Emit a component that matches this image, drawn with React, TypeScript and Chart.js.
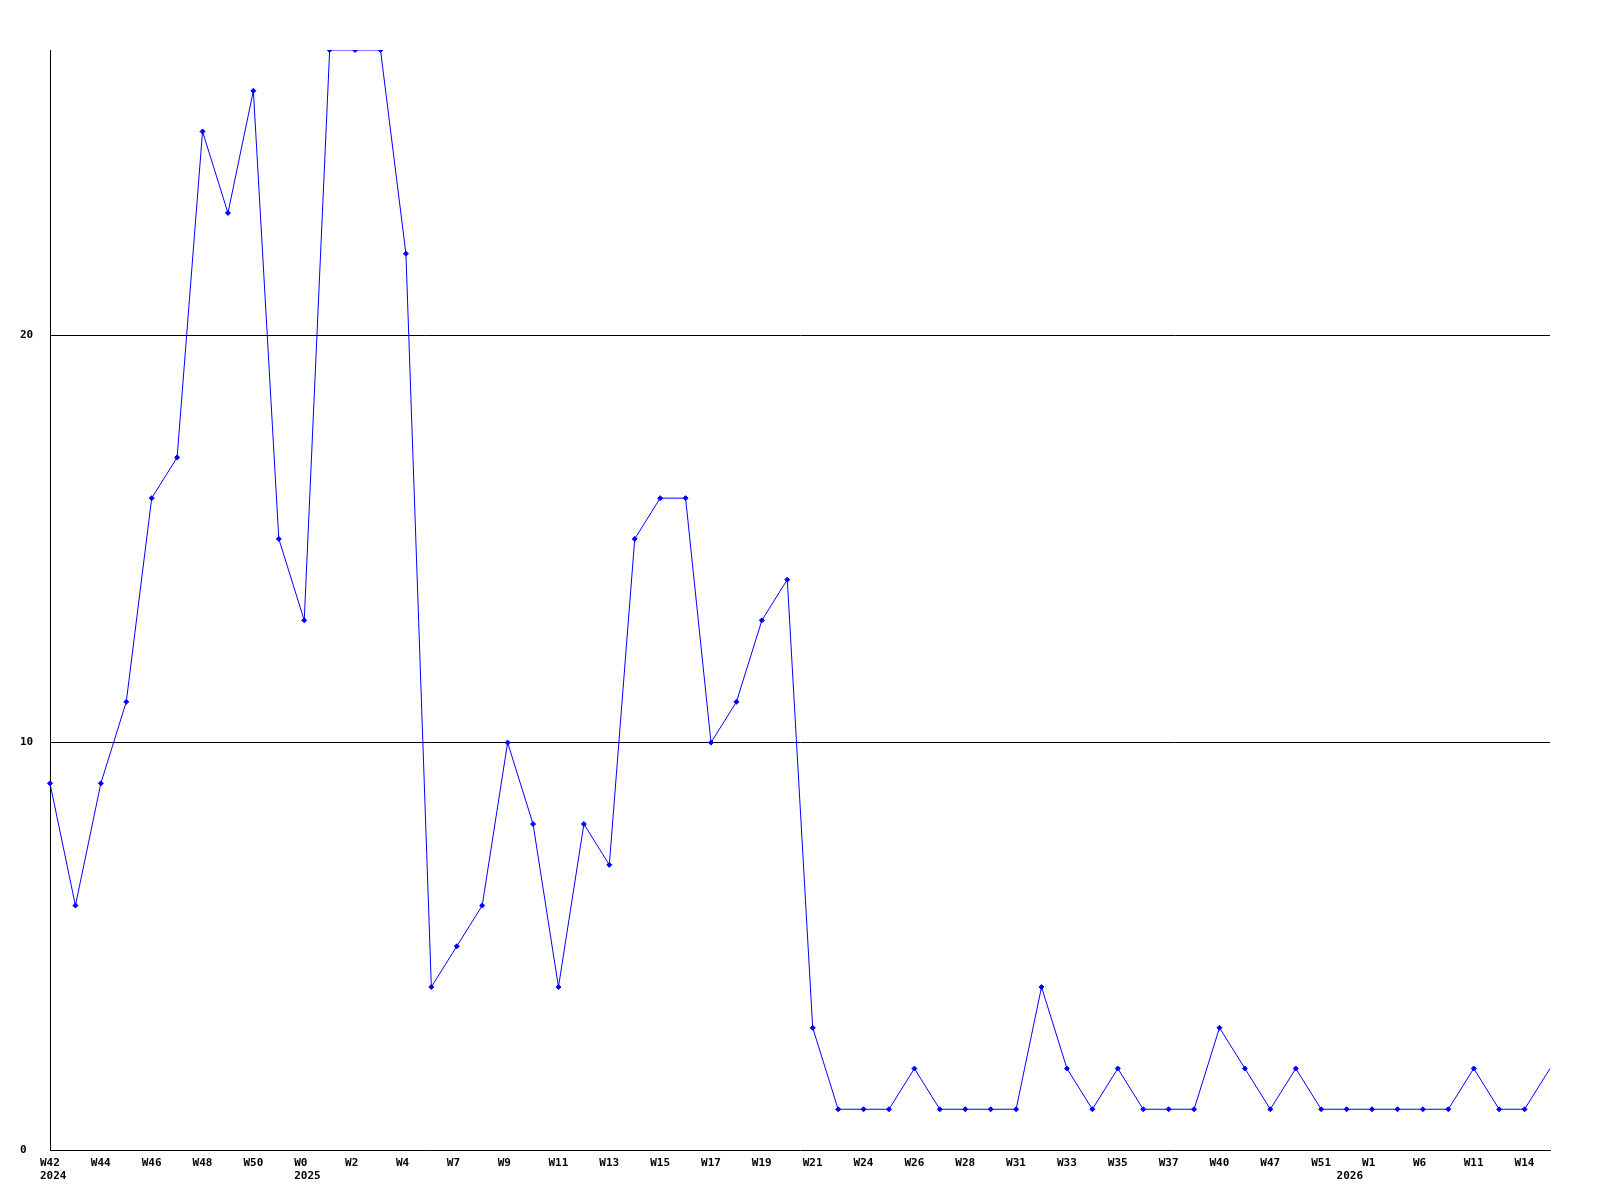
import React, { useEffect, useRef } from "react";
import { Chart, registerables } from "chart.js";

Chart.register(...registerables);

const weekLabels = [
  "W42", "", "W44", "", "W46", "", "W48", "", "W50", "",
  "W0", "", "W2", "", "W4", "", "W7", "", "W9", "",
  "W11", "", "W13", "", "W15", "", "W17", "", "W19", "",
  "W21", "", "W24", "", "W26", "", "W28", "", "W31", "",
  "W33", "", "W35", "", "W37", "", "W40", "", "W47", "",
  "W51", "", "W1", "", "W6", "", "W11", "", "W14", "",
];

const values = [
  9, 6, 9, 11, 16, 17, 25, 23, 26, 15,
  13, 27, 27, 27, 22, 4, 5, 6, 10, 8,
  4, 8, 7, 15, 16, 16, 10, 11, 13, 14,
  3, 1, 1, 1, 2, 1, 1, 1, 1, 4,
  2, 1, 2, 1, 1, 1, 3, 2, 1, 2,
  1, 1, 1, 1, 1, 1, 2, 1, 1, 2,
];

const yTickValues = [0, 10, 20];
const yearTickIndices = [0, 10, 51];
const yearTexts = ["2024", "2025", "2026"];

const FONT_FAMILY = "'DejaVu Sans Mono', monospace";

function tickLabel(i: number): string | string[] {
  const yi = yearTickIndices.indexOf(i);
  if (yi >= 0) return [weekLabels[i] || "", yearTexts[yi]];
  return weekLabels[i] || "";
}

export default function App() {
  const canvasRef = useRef<HTMLCanvasElement | null>(null);

  useEffect(() => {
    if (!canvasRef.current) return;
    const last = values.length - 1;
    const chart = new Chart(canvasRef.current, {
      type: "line",
      data: {
        labels: weekLabels,
        datasets: [
          {
            data: values,
            borderColor: "#0000ff",
            backgroundColor: "#0000ff",
            borderWidth: 1,
            pointStyle: "rectRot",
            pointRadius: (c: any) => (c.dataIndex === last ? 0 : 2.5),
            pointBorderWidth: 1,
            tension: 0,
            fill: false,
          },
        ],
      },
      options: {
        animation: false,
        responsive: false,
        maintainAspectRatio: false,
        layout: { padding: { left: 20, right: 50, top: 50, bottom: 0 } },
        plugins: { legend: { display: false }, tooltip: { enabled: false } },
        scales: {
          x: {
            type: "category",
            offset: false,
            grid: { display: false, drawTicks: false },
            border: { display: true, color: "#000", width: 1 },
            ticks: {
              autoSkip: false,
              maxRotation: 0,
              minRotation: 0,
              align: "start",
              labelOffset: -10,
              padding: 6,
              color: "#000",
              font: { family: FONT_FAMILY, size: 11, weight: "bold", lineHeight: 1.25 },
              callback: (_v: any, i: number) => tickLabel(i),
            },
            afterFit: (s: any) => {
              s.height = 50;
            },
          },
          y: {
            min: 0,
            max: 27,
            grid: {
              color: "#000",
              lineWidth: (c: any) => (c.tick && c.tick.value === 0 ? 0 : 1),
              drawTicks: false,
            },
            border: { display: true, color: "#000", width: 1 },
            afterBuildTicks: (s: any) => {
              s.ticks = yTickValues.map((v) => ({ value: v }));
            },
            ticks: {
              crossAlign: "far",
              color: "#000",
              padding: 0,
              font: { family: FONT_FAMILY, size: 11, weight: "bold" },
              callback: (v: any) => String(v),
            },
            afterFit: (s: any) => {
              s.width = 30;
            },
          },
        },
      },
    } as any);
    return () => chart.destroy();
  }, []);

  return (
    <div style={{ position: "absolute", left: 0, top: 0, width: 1600, height: 1200, background: "#fff" }}>
      <canvas ref={canvasRef} width={1600} height={1200} style={{ width: 1600, height: 1200 }} />
    </div>
  );
}
